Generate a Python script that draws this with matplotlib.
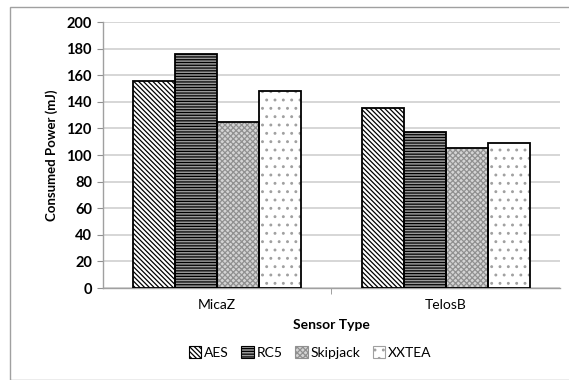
import matplotlib
matplotlib.use('Agg')
import matplotlib.pyplot as plt
import numpy as np
from matplotlib.patches import Rectangle

sensors = ['MicaZ', 'TelosB']
algorithms = ['AES', 'RC5', 'Skipjack', 'XXTEA']
power = {
    'AES': [156, 135],
    'RC5': [176, 117],
    'Skipjack': [125, 105],
    'XXTEA': [148, 109],
}
yticks = [0, 20, 40, 60, 80, 100, 120, 140, 160, 180, 200]

# face colour, hatch, hatch colour
styles = {
    'AES': ('white', '\\\\\\\\\\\\\\', 'black'),
    'RC5': ('#9a9a9a', '------', 'black'),
    'Skipjack': ('#d4d4d4', 'xxxxxx', '#909090'),
    'XXTEA': ('white', '..', '#a0a0a0'),
}

plt.rcParams['font.family'] = ['Lato', 'DejaVu Sans']
plt.rcParams['hatch.linewidth'] = 0.9

fig = plt.figure(figsize=(5.69, 3.8), dpi=100)
ax = fig.add_axes([0.181, 0.242, 0.803, 0.700])

fig.patches.append(Rectangle((10 / 569, 0), 1, 1 - 7 / 380, transform=fig.transFigure,
                             fill=False, edgecolor='#a0a0a0', linewidth=1.0))

x = np.arange(len(sensors))
w = 0.184
handles = []
for i, alg in enumerate(algorithms):
    fc, hatch, hc = styles[alg]
    ax.bar(x + (i - 1.5) * w, power[alg], width=w, facecolor=fc, hatch=hatch,
           edgecolor=hc, linewidth=0, zorder=3)
    ax.bar(x + (i - 1.5) * w, power[alg], width=w, fill=False,
           edgecolor='black', linewidth=1.3, zorder=4)
    handles.append(Rectangle((0, 0), 1, 1, facecolor=fc, hatch=hatch,
                             edgecolor=hc, linewidth=0.8))

ax.set_xlim(-0.5, 1.5)
ax.set_ylim(0, 200)
ax.set_yticks(yticks)
ax.set_yticklabels([str(v) for v in yticks], fontsize=10.5, fontweight='bold')
ax.yaxis.grid(True, color='#d0d0d0', linewidth=1.2, zorder=0)
ax.set_xticks(x)
ax.set_xticklabels(sensors, fontsize=10)
ax.set_xticks([0.5], minor=True)
ax.tick_params(axis='x', which='major', length=0, pad=8)
ax.tick_params(axis='x', which='minor', length=4, color='#909090')
ax.tick_params(axis='y', length=4, color='#909090', pad=4)

for s in ['top', 'right']:
    ax.spines[s].set_visible(False)
for s in ['left', 'bottom']:
    ax.spines[s].set_color('#a0a0a0')
    ax.spines[s].set_linewidth(1.0)

ax.set_ylabel('Consumed Power (mJ)', fontsize=9.5, fontweight='bold', labelpad=6)
ax.set_xlabel('Sensor Type', fontsize=10, fontweight='bold', labelpad=6)

fig.legend(handles, algorithms, loc='center', bbox_to_anchor=(0.545, 0.073), ncol=4,
           frameon=False, fontsize=10, handlelength=0.9, handleheight=0.9,
           handletextpad=0.2, columnspacing=0.9)

fig.savefig('out.png', dpi=100)
